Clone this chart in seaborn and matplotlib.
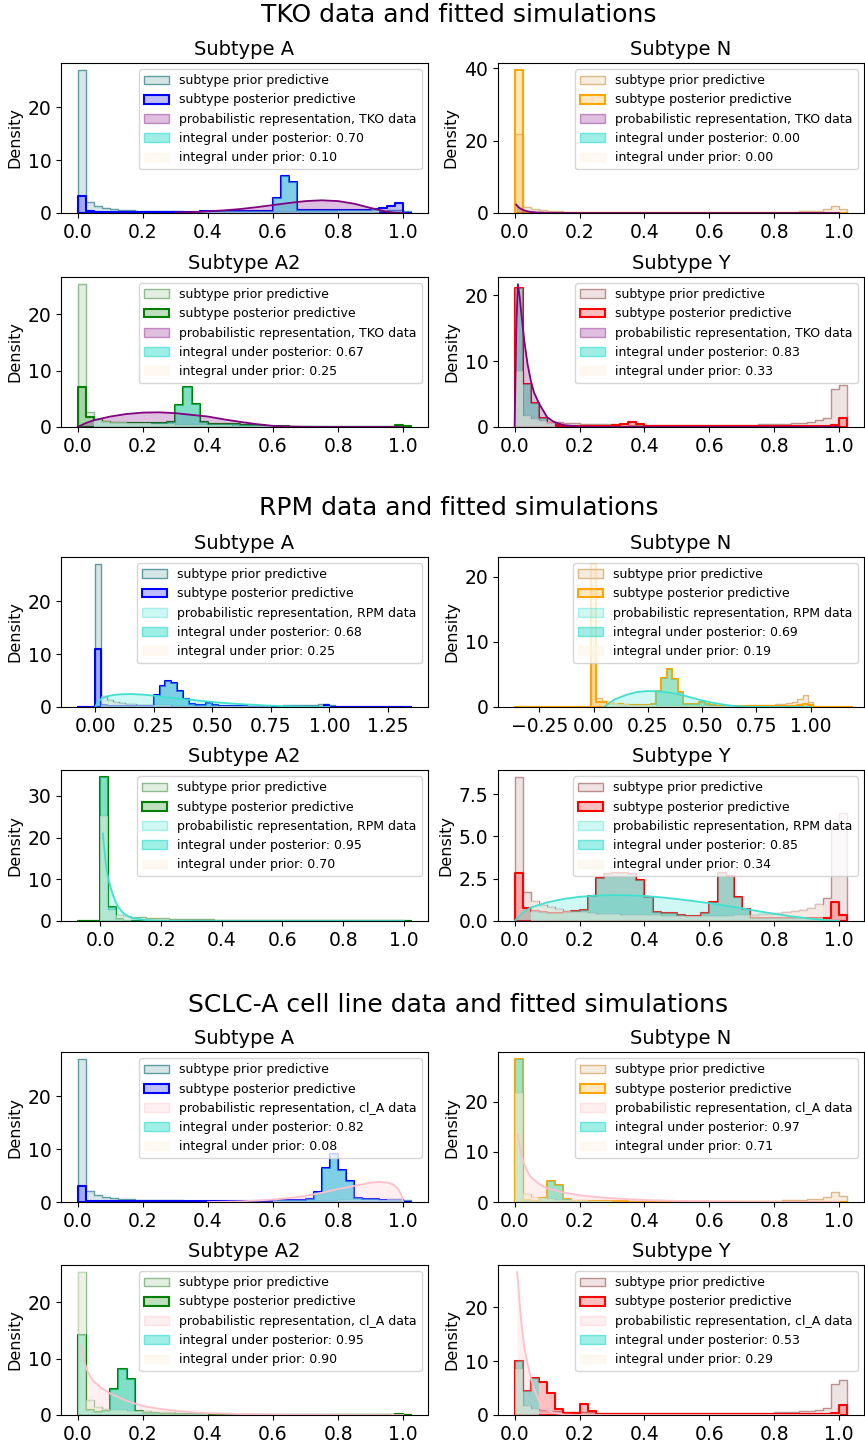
import numpy as np
import pandas as pd
import matplotlib
matplotlib.use("Agg")
import matplotlib.pyplot as plt
from matplotlib.colors import to_rgba
from matplotlib.patches import Patch
from matplotlib.ticker import MultipleLocator
import seaborn as sns

plt.rcParams["font.family"] = ["DejaVu Sans"]

BIN_W = 0.025  # histogram bin width

# ---- prior predictive densities (41 bins from 0.0 to 1.025) ----
PRIOR_A = [27.0, 2.1, 1.3, 0.95, 0.75, 0.62, 0.52, 0.46, 0.41, 0.37, 0.34, 0.31, 0.29, 0.27,
           0.26, 0.25, 0.24, 0.23, 0.22, 0.22, 0.21, 0.21, 0.21, 0.21, 0.21, 0.22, 0.22, 0.23,
           0.24, 0.25, 0.26, 0.28, 0.30, 0.32, 0.35, 0.38, 0.42, 0.47, 0.52, 0.58, 0.35]
PRIOR_N = [21.8, 1.6, 1.0, 0.72, 0.56, 0.46, 0.40, 0.35, 0.31, 0.28, 0.26, 0.24, 0.22, 0.21,
           0.20, 0.19, 0.18, 0.18, 0.17, 0.17, 0.17, 0.17, 0.17, 0.17, 0.18, 0.18, 0.19, 0.20,
           0.21, 0.22, 0.24, 0.26, 0.28, 0.31, 0.35, 0.42, 0.52, 0.68, 1.0, 2.0, 1.1]
PRIOR_A2 = [25.3, 2.7, 1.5, 1.1, 0.92, 0.85, 0.76, 0.70, 0.62, 0.56, 0.50, 0.46, 0.42, 0.39,
            0.36, 0.34, 0.32, 0.30, 0.28, 0.26, 0.25, 0.23, 0.22, 0.21, 0.20, 0.19, 0.18, 0.17,
            0.16, 0.16, 0.15, 0.15, 0.14, 0.14, 0.14, 0.13, 0.13, 0.13, 0.13, 0.15, 0.10]
PRIOR_Y = [8.5, 1.7, 1.2, 0.95, 0.80, 0.70, 0.62, 0.56, 0.51, 0.47, 0.44, 0.42, 0.40, 0.38,
           0.36, 0.35, 0.34, 0.33, 0.32, 0.31, 0.30, 0.30, 0.30, 0.30, 0.30, 0.31, 0.32, 0.33,
           0.35, 0.37, 0.40, 0.43, 0.47, 0.52, 0.58, 0.66, 0.78, 1.0, 1.35, 5.7, 6.4]
# RPM subtype N uses bins centred on 0.0, 0.025, ... 1.025
RPM_PRIOR_N = [8.0, 1.4, 0.9, 0.7, 0.55, 0.45, 0.40, 0.35, 0.30, 0.28, 0.26, 0.24, 0.22, 0.21,
               0.20, 0.20, 0.19, 0.19, 0.18, 0.18, 0.18, 0.18, 0.18, 0.18, 0.19, 0.19, 0.20,
               0.21, 0.22, 0.24, 0.26, 0.28, 0.31, 0.35, 0.40, 0.50, 0.62, 0.80, 1.2, 1.9, 0.8, 0.0]

# ---- posterior predictive densities ----
TKO_POST_A = [3.3, 0.30, 0.28, 0.27, 0.26, 0.25, 0.25, 0.25, 0.25, 0.25, 0.25, 0.26, 0.26, 0.27,
              0.28, 0.30, 0.30, 0.32, 0.33, 0.35, 0.36, 0.38, 0.40, 0.42, 2.8, 6.9, 5.9, 0.5,
              0.5, 0.5, 0.5, 0.52, 0.55, 0.58, 0.6, 0.65, 0.7, 0.9, 1.3, 1.8, 0.0]
TKO_POST_N = [39.5, 0.10, 0.05, 0.04] + [0.02] * 37
TKO_POST_A2 = [7.1, 1.7, 1.2, 0.8, 0.75, 0.72, 0.70, 0.68, 0.66, 0.66, 0.70, 0.90, 3.9, 7.0,
               4.15, 0.9, 0.6, 0.55, 0.5, 0.45, 0.4, 0.35, 0.3, 0.25, 0.2, 0.1, 0.06] + [0.05] * 12 + [0.3, 0.1]
TKO_POST_Y = [21.1, 6.6, 3.7, 1.3, 0.6, 0.25, 0.2, 0.2, 0.18, 0.18, 0.18, 0.2, 0.25, 0.5, 0.8,
              0.5, 0.2] + [0.15] * 9 + [0.2, 0.2, 0.15] + [0.12] * 8 + [0.15, 0.2, 0.3, 1.4]

RPM_POST_A = [10.9, 0.3, 0.25, 0.2, 0.2, 0.2, 0.2, 0.2, 0.2, 0.25, 2.2, 4.0, 4.95, 4.5, 3.0,
              1.6, 0.5, 0.35, 0.3, 0.7, 0.4, 0.2, 0.15, 0.15, 0.12, 0.1] + [0.05] * 13 + [0.3, 0.0]
RPM_POST_N = [21.9, 0.8, 0.7, 0.5, 0.45, 0.4, 0.35, 0.35, 0.3, 0.3, 0.35, 0.4, 2.5, 4.4, 5.8,
              4.3, 2.3, 0.5, 0.45, 0.4, 0.7, 0.5, 0.25, 0.2, 0.15] + [0.1] * 12 + [0.15, 0.3, 0.45, 0.3, 0.0]
RPM_POST_A2 = [34.5, 3.3, 0.5, 0.1, 0.05] + [0.02] * 36
RPM_POST_Y = [2.85, 0.75, 0.6, 0.55, 0.5, 0.5, 0.55, 0.6, 0.65, 1.5, 2.55, 2.75, 2.85, 2.85,
              2.75, 2.4, 1.4, 0.55, 0.5, 0.45, 0.35, 0.3, 0.3, 0.45, 1.15, 2.85, 2.65, 1.4,
              0.7] + [0.15] * 9 + [0.2, 1.15, 0.35]

CLA_POST_A = [3.0, 0.15, 0.12] + [0.1] * 19 + [0.25, 0.28, 0.3, 0.3, 0.3, 0.35, 0.5, 1.9, 6.5,
                                                9.1, 6.1, 3.9, 0.8, 0.5, 0.5, 0.45, 0.4, 0.4, 0.0]
CLA_POST_N = [28.5, 0.3, 0.2, 0.8, 4.2, 3.4, 0.5, 0.2, 0.2, 0.2, 0.2, 0.2, 0.2, 0.2] + [0.0] * 27
CLA_POST_A2 = [14.2, 0.8, 0.6, 0.7, 4.6, 8.2, 6.3, 0.7, 0.4, 0.3, 0.25, 0.2, 0.2, 0.2, 0.2,
               0.15] + [0.03] * 23 + [0.2, 0.05]
CLA_POST_Y = [10.0, 4.4, 6.8, 6.1, 4.0, 1.1, 0.4, 0.3, 2.0, 0.8] + [0.2] * 29 + [0.3, 1.8]

# ---- probabilistic representation of the data (density curves) ----
TKO_A_X = [0.3, 0.35, 0.4, 0.45, 0.5, 0.55, 0.6, 0.65, 0.7, 0.75, 0.8, 0.85, 0.9, 0.95, 0.975, 1.0]
TKO_A_Y = [0.05, 0.15, 0.3, 0.5, 0.75, 1.1, 1.5, 1.9, 2.25, 2.4, 2.25, 1.75, 0.95, 0.25, 0.05, 0.0]
TKO_N_X = [0.005, 0.01, 0.015, 0.02, 0.03, 0.04, 0.05, 0.07, 0.1, 0.15, 0.2, 1.0]
TKO_N_Y = [2.3, 1.8, 1.4, 1.1, 0.7, 0.45, 0.3, 0.15, 0.05, 0.01, 0.0, 0.0]
TKO_A2_X = [0.0, 0.025, 0.05, 0.1, 0.15, 0.2, 0.25, 0.3, 0.35, 0.4, 0.45, 0.5, 0.55, 0.6, 0.65, 0.7, 0.8, 1.0]
TKO_A2_Y = [0.0, 0.7, 1.2, 1.85, 2.3, 2.55, 2.6, 2.45, 2.15, 1.85, 1.35, 0.9, 0.5, 0.2, 0.08, 0.03, 0.0, 0.0]
TKO_Y_X = [0.0, 0.005, 0.01, 0.015, 0.02, 0.03, 0.04, 0.05, 0.06, 0.075, 0.1, 0.12, 0.15, 0.2, 0.3, 1.0]
TKO_Y_Y = [0.0, 15.0, 21.7, 20.0, 17.5, 13.0, 9.5, 7.0, 5.2, 3.6, 1.5, 0.8, 0.3, 0.05, 0.0, 0.0]

RPM_A_X = [0.0, 0.01, 0.025, 0.05, 0.075, 0.1, 0.15, 0.2, 0.25, 0.3, 0.35, 0.4, 0.5, 0.6, 0.7, 0.8, 0.9, 1.0]
RPM_A_Y = [0.0, 0.9, 1.5, 2.0, 2.25, 2.38, 2.45, 2.35, 2.15, 1.85, 1.6, 1.4, 0.95, 0.6, 0.35, 0.15, 0.05, 0.0]
RPM_N_X = [0.05, 0.075, 0.1, 0.15, 0.2, 0.25, 0.3, 0.35, 0.4, 0.45, 0.5, 0.55, 0.6, 0.65, 0.7, 0.75, 0.8, 1.0]
RPM_N_Y = [0.0, 0.7, 1.2, 1.85, 2.3, 2.45, 2.4, 2.2, 1.9, 1.45, 1.0, 0.65, 0.35, 0.15, 0.05, 0.01, 0.0, 0.0]
RPM_A2_X = [0.008, 0.012, 0.016, 0.02, 0.025, 0.03, 0.04, 0.05, 0.06, 0.075, 0.1, 0.15, 0.2, 0.3, 1.0]
RPM_A2_Y = [21.0, 18.0, 15.0, 12.5, 10.5, 9.0, 6.5, 4.6, 3.2, 1.9, 0.8, 0.2, 0.05, 0.0, 0.0]
RPM_Y_X = [0.0, 0.025, 0.05, 0.1, 0.15, 0.2, 0.25, 0.3, 0.35, 0.4, 0.45, 0.5, 0.55, 0.6, 0.65,
           0.7, 0.75, 0.8, 0.85, 0.9, 0.95, 1.0]
RPM_Y_Y = [0.0, 0.5, 0.8, 1.1, 1.3, 1.43, 1.5, 1.53, 1.52, 1.48, 1.4, 1.3, 1.18, 1.05, 0.9,
           0.75, 0.58, 0.43, 0.28, 0.16, 0.06, 0.0]

CLA_A_X = [0.4, 0.45, 0.5, 0.55, 0.6, 0.65, 0.7, 0.75, 0.8, 0.85, 0.9, 0.925, 0.95, 0.97, 0.985, 0.995, 1.0]
CLA_A_Y = [0.0, 0.05, 0.12, 0.28, 0.45, 0.75, 1.15, 1.75, 2.45, 3.05, 3.65, 3.8, 3.7, 3.3, 2.4, 1.2, 0.0]
CLA_N_X = [0.01, 0.015, 0.02, 0.03, 0.04, 0.05, 0.075, 0.1, 0.15, 0.2, 0.25, 0.3, 0.35, 0.4,
           0.5, 0.6, 0.7, 0.8, 1.0]
CLA_N_Y = [13.5, 11.5, 9.5, 7.5, 6.0, 5.0, 3.6, 2.7, 1.9, 1.35, 1.0, 0.75, 0.55, 0.4, 0.22,
           0.12, 0.05, 0.02, 0.0]
CLA_A2_X = [0.01, 0.015, 0.02, 0.03, 0.04, 0.05, 0.075, 0.1, 0.15, 0.2, 0.25, 0.3, 0.35, 0.4,
            0.5, 0.6, 0.7, 0.8, 1.0]
CLA_A2_Y = [12.3, 10.8, 9.5, 7.8, 6.7, 5.9, 4.7, 3.8, 2.5, 1.6, 1.1, 0.75, 0.5, 0.33, 0.15,
            0.07, 0.03, 0.01, 0.0]
CLA_Y_X = [0.0075, 0.01, 0.015, 0.02, 0.025, 0.03, 0.04, 0.05, 0.06, 0.07, 0.08, 0.1, 0.12, 0.15, 0.2, 0.3, 1.0]
CLA_Y_Y = [26.5, 25.0, 21.0, 17.5, 15.0, 12.5, 9.5, 6.8, 4.8, 3.3, 2.2, 0.9, 0.4, 0.1, 0.02, 0.0, 0.0]

# ---- integrals quoted in the legends ----
TKO_INT_POST = ["0.70", "0.00", "0.67", "0.83"]
TKO_INT_PRIOR = ["0.10", "0.00", "0.25", "0.33"]
RPM_INT_POST = ["0.68", "0.69", "0.95", "0.85"]
RPM_INT_PRIOR = ["0.25", "0.19", "0.70", "0.34"]
CLA_INT_POST = ["0.82", "0.97", "0.95", "0.53"]
CLA_INT_PRIOR = ["0.08", "0.71", "0.90", "0.29"]

SUBTYPES = ["A", "N", "A2", "Y"]
PRIOR_COL = {"A": "cadetblue", "N": "burlywood", "A2": "darkseagreen", "Y": "rosybrown"}
POST_COL = {"A": "blue", "N": "orange", "A2": "green", "Y": "red"}

for arr in (PRIOR_A, PRIOR_N, PRIOR_A2, PRIOR_Y, TKO_POST_A, TKO_POST_N, TKO_POST_A2, TKO_POST_Y,
            RPM_POST_A, RPM_POST_A2, RPM_POST_Y, CLA_POST_A, CLA_POST_N, CLA_POST_A2, CLA_POST_Y):
    assert len(arr) == 41, len(arr)
assert len(RPM_POST_N) == 42 and len(RPM_PRIOR_N) == 42

# panel: prior, posterior, first bin edge, (empty bins left, right), curve, shaded interval,
#        x tick step, fixed x limits (None = automatic)
SECTIONS = [
    dict(title="TKO data and fitted simulations", data="TKO", colour="purple", title_y=15,
         rows=((63, 213), (277, 427)), post_int=TKO_INT_POST, prior_int=TKO_INT_PRIOR,
         panels=[
             (PRIOR_A, TKO_POST_A, 0.0, (0, 0), TKO_A_X, TKO_A_Y, (0.35, 0.925), 0.2, None),
             (PRIOR_N, TKO_POST_N, 0.0, (0, 0), TKO_N_X, TKO_N_Y, None, 0.2, None),
             (PRIOR_A2, TKO_POST_A2, 0.0, (0, 0), TKO_A2_X, TKO_A2_Y, (0.05, 0.6), 0.2, None),
             (PRIOR_Y, TKO_POST_Y, 0.0, (0, 0), TKO_Y_X, TKO_Y_Y, (0.0, 0.125), 0.2, None),
         ]),
    dict(title="RPM data and fitted simulations", data="RPM", colour="turquoise", title_y=508,
         rows=((557, 707), (770, 921)), post_int=RPM_INT_POST, prior_int=RPM_INT_PRIOR,
         panels=[
             (PRIOR_A, RPM_POST_A, 0.0, (3, 13), RPM_A_X, RPM_A_Y, (0.025, 0.75), 0.25, None),
             (RPM_PRIOR_N, RPM_POST_N, -0.0125, (14, 6), RPM_N_X, RPM_N_Y, (0.05, 0.7), 0.25,
              (-0.44, 1.245)),
             (PRIOR_A2, RPM_POST_A2, 0.0, (3, 0), RPM_A2_X, RPM_A2_Y, (0.0, 0.1), 0.2, None),
             (PRIOR_Y, RPM_POST_Y, 0.0, (0, 0), RPM_Y_X, RPM_Y_Y, (0.05, 0.95), 0.2, None),
         ]),
    dict(title="SCLC-A cell line data and fitted simulations", data="cl_A", colour="pink",
         title_y=1005, rows=((1052, 1202), (1265, 1415)), post_int=CLA_INT_POST,
         prior_int=CLA_INT_PRIOR,
         panels=[
             (PRIOR_A, CLA_POST_A, 0.0, (0, 0), CLA_A_X, CLA_A_Y, (0.6, 1.0), 0.2, None),
             (PRIOR_N, CLA_POST_N, 0.0, (0, 0), CLA_N_X, CLA_N_Y, (0.0, 0.3), 0.2, None),
             (PRIOR_A2, CLA_POST_A2, 0.0, (0, 0), CLA_A2_X, CLA_A2_Y, (0.0, 0.4), 0.2, None),
             (PRIOR_Y, CLA_POST_Y, 0.0, (0, 0), CLA_Y_X, CLA_Y_Y, (0.0, 0.075), 0.2, None),
         ]),
]

FIG_W, FIG_H = 865, 1441
COLS = ((61, 428), (498, 864))


def fig_box(left, top, right, bottom):
    return [left / FIG_W, 1 - bottom / FIG_H, (right - left) / FIG_W, (bottom - top) / FIG_H]


def step_hist(ax, heights, start, pad, colour, lw):
    vals = np.r_[np.zeros(pad[0]), np.asarray(heights, float), np.zeros(pad[1])]
    first = start - pad[0] * BIN_W
    edges = first + BIN_W * np.arange(len(vals) + 1)
    frame = pd.DataFrame({"value": edges[:-1] + BIN_W / 2, "density": vals})
    sns.histplot(data=frame, x="value", weights="density", bins=[float(e) for e in edges],
                 stat="count", element="step", fill=True, color=colour, alpha=0.25,
                 linewidth=lw, ax=ax)
    return vals, edges


def shade(ax, vals, edges, lo, hi, colour):
    keep = (edges[:-1] >= lo - 1e-9) & (edges[1:] <= hi + 1e-9)
    idx = np.flatnonzero(keep)
    if idx.size:
        ax.stairs(vals[idx], edges[idx[0]: idx[-1] + 2], fill=True, color=colour)


fig = plt.figure(figsize=(FIG_W / 100, FIG_H / 100), dpi=100)

for sec in SECTIONS:
    fig.text(0.53, 1 - sec["title_y"] / FIG_H, sec["title"], ha="center", va="center", fontsize=18)
    dcol = sec["colour"]
    for k, (prior, post, start, pad, cx, cy, interval, xstep, xlim) in enumerate(sec["panels"]):
        st = SUBTYPES[k]
        r, c = divmod(k, 2)
        top, bottom = sec["rows"][r]
        left, right = COLS[c]
        ax = fig.add_axes(fig_box(left, top, right, bottom))

        pv, pe = step_hist(ax, prior, start, pad, PRIOR_COL[st], 1.0)
        qv, qe = step_hist(ax, post, start, pad, POST_COL[st], 1.5)

        ax.fill_between(cx, cy, color=dcol, alpha=0.25, linewidth=0)
        sns.lineplot(x=cx, y=cy, color=dcol, linewidth=1.3, ax=ax)

        if interval is not None:
            shade(ax, qv, qe, interval[0], interval[1], to_rgba("turquoise", 0.5))
            shade(ax, pv, pe, interval[0], interval[1], to_rgba("oldlace", 0.5))

        handles = [
            Patch(facecolor=to_rgba(PRIOR_COL[st], 0.25), edgecolor=PRIOR_COL[st], linewidth=1.0),
            Patch(facecolor=to_rgba(POST_COL[st], 0.25), edgecolor=POST_COL[st], linewidth=1.5),
            Patch(facecolor=to_rgba(dcol, 0.25), edgecolor=to_rgba(dcol, 0.4), linewidth=1.0),
            Patch(facecolor=to_rgba("turquoise", 0.5), edgecolor=to_rgba("turquoise", 0.7), linewidth=1.0),
            Patch(facecolor=to_rgba("oldlace", 0.5), edgecolor=to_rgba("oldlace", 0.6), linewidth=1.0),
        ]
        labels = [
            "subtype prior predictive",
            "subtype posterior predictive",
            f"probabilistic representation, {sec['data']} data",
            f"integral under posterior: {sec['post_int'][k]}",
            f"integral under prior: {sec['prior_int'][k]}",
        ]
        ax.legend(handles, labels, loc="upper right", fontsize=9)

        ax.xaxis.set_major_locator(MultipleLocator(xstep))
        if xlim is not None:
            ax.set_xlim(*xlim)
        ax.set_title(f"Subtype {st}", fontsize=14)
        ax.set_xlabel("")
        ax.set_ylabel("Density", fontsize=11.5)
        ax.tick_params(labelsize=13.5)

fig.savefig("out.png", dpi=100)
